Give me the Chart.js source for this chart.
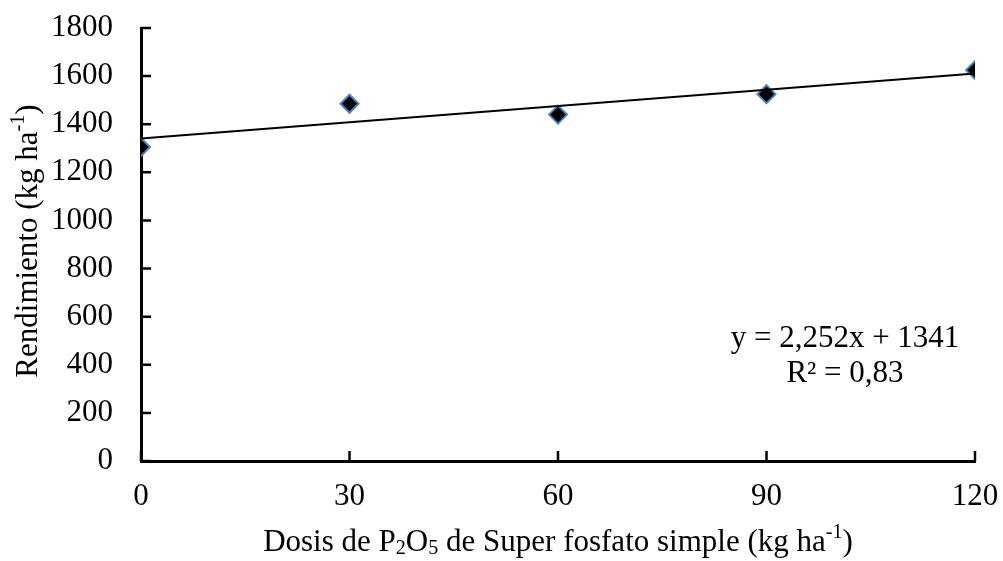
<!DOCTYPE html>
<html>
<head>
<meta charset="utf-8">
<script src="https://cdn.jsdelivr.net/npm/chart.js@4/dist/chart.umd.min.js"></script>
<style>
  html, body { margin: 0; padding: 0; background: #fff; }
  #wrap { width: 1003px; height: 561px; }
</style>
</head>
<body>
<div id="wrap"><canvas id="chart" width="1003" height="561"></canvas></div>
<script>
const doses = [0, 30, 60, 90, 120];
const yields = [1305, 1485, 1440, 1525, 1625];
const xTicks = [0, 30, 60, 90, 120];
const yTicks = [0, 200, 400, 600, 800, 1000, 1200, 1400, 1600, 1800];
const slope = 2.252;
const intercept = 1341;
const eqLines = ['y = 2,252x + 1341', 'R² = 0,83'];

const serif = '"Liberation Serif", "Times New Roman", serif';
const fontSize = 31;

// trend line endpoints from the fitted equation
const trend = [doses[0], doses[doses.length - 1]].map(x => ({ x: x, y: slope * x + intercept }));

// draws text pieces with sub/superscripts, returns total width
function richText(ctx, parts, x, y, size, measureOnly) {
    let cx = x;
    parts.forEach(p => {
        const small = p.sup || p.sub;
        const fs = small ? size * 0.65 : size;
        ctx.font = fs + 'px ' + serif;
        const dy = p.sup ? -size * 0.33 : p.sub ? size * 0.2 : 0;
        if (!measureOnly) ctx.fillText(p.t, cx, y + dy);
        cx += ctx.measureText(p.t).width;
    });
    return cx - x;
}

const decorations = {
    id: 'decorations',
    afterDraw(chart) {
        const ctx = chart.ctx;
        const xs = chart.scales.x, ys = chart.scales.y;
        const area = chart.chartArea;
        ctx.save();
        ctx.strokeStyle = '#000';
        ctx.lineWidth = 2.5;
        // inward tick marks
        ctx.beginPath();
        yTicks.forEach(v => {
            const py = ys.getPixelForValue(v);
            ctx.moveTo(area.left, py);
            ctx.lineTo(area.left + 10, py);
        });
        xTicks.forEach(v => {
            const px = xs.getPixelForValue(v);
            ctx.moveTo(px, area.bottom);
            ctx.lineTo(px, area.bottom - 10);
        });
        ctx.stroke();

        ctx.fillStyle = '#000';
        ctx.textBaseline = 'middle';
        ctx.textAlign = 'left';

        // x axis title
        const xTitle = [
            { t: 'Dosis de P' }, { t: '2', sub: true }, { t: 'O' }, { t: '5', sub: true },
            { t: ' de Super fosfato simple (kg ha' }, { t: '-1', sup: true }, { t: ')' }
        ];
        const wx = richText(ctx, xTitle, 0, 0, fontSize, true);
        richText(ctx, xTitle, (area.left + area.right) / 2 - wx / 2, 543, fontSize);

        // y axis title
        const yTitle = [{ t: 'Rendimiento (kg ha' }, { t: '-1', sup: true }, { t: ')' }];
        const wy = richText(ctx, yTitle, 0, 0, fontSize, true);
        ctx.save();
        ctx.translate(29, 241);
        ctx.rotate(-Math.PI / 2);
        richText(ctx, yTitle, -wy / 2, 0, fontSize);
        ctx.restore();

        // regression equation
        ctx.textAlign = 'center';
        ctx.font = fontSize + 'px ' + serif;
        ctx.fillText(eqLines[0], 845, 339);
        ctx.fillText(eqLines[1], 845, 374);
        ctx.restore();
    }
};

new Chart(document.getElementById('chart'), {
    type: 'scatter',
    data: {
        datasets: [
            {
                type: 'line',
                data: trend,
                borderColor: '#000',
                borderWidth: 2,
                pointRadius: 0,
                fill: false
            },
            {
                data: doses.map((d, i) => ({ x: d, y: yields[i] })),
                pointStyle: 'rectRot',
                pointRadius: 9,
                backgroundColor: '#000',
                borderColor: '#4f81bd',
                borderWidth: 2
            }
        ]
    },
    options: {
        responsive: false,
        animation: false,
        layout: { padding: { top: 28, right: 28, left: 0, bottom: 0 } },
        plugins: { legend: { display: false }, tooltip: { enabled: false } },
        scales: {
            x: {
                type: 'linear',
                min: 0, max: 120,
                afterBuildTicks: s => { s.ticks = xTicks.map(v => ({ value: v })); },
                afterFit: s => { s.height = 100; s.paddingLeft = 0; s.paddingRight = 0; },
                grid: { drawOnChartArea: false, drawTicks: false },
                border: { color: '#000', width: 3 },
                ticks: { color: '#000', padding: 17, font: { family: serif, size: fontSize }, callback: v => String(v) }
            },
            y: {
                min: 0, max: 1800,
                afterBuildTicks: s => { s.ticks = yTicks.map(v => ({ value: v })); },
                afterFit: s => { s.width = 141; s.paddingTop = 0; s.paddingBottom = 0; },
                grid: { drawOnChartArea: false, drawTicks: false },
                border: { color: '#000', width: 3 },
                ticks: { color: '#000', padding: 28, font: { family: serif, size: fontSize }, callback: v => String(v) }
            }
        }
    },
    plugins: [decorations]
});
</script>
</body>
</html>
